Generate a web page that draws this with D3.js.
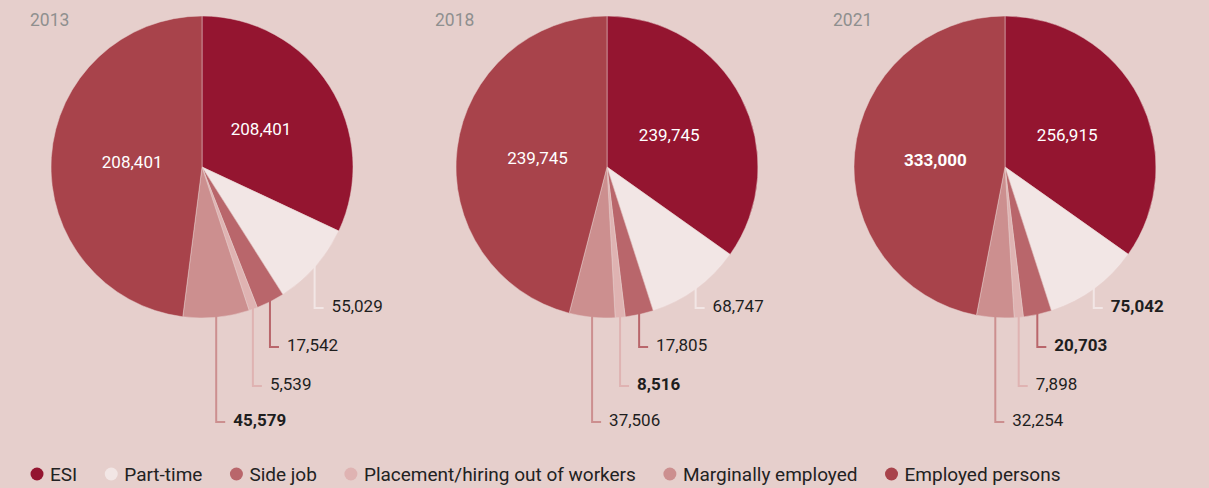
<!DOCTYPE html>
<html>
<head>
<meta charset="utf-8">
<script src="https://cdn.jsdelivr.net/npm/d3@7"></script>
<style>
  body { margin: 0; background: #e6cfcc; }
  svg { display: block; font-family: Roboto, "Open Sans", sans-serif; }
</style>
</head>
<body>
<div id="chart"></div>
<script>
// categories and colours (one per slice)
const categories = ["ESI", "Part-time", "Side job", "Placement/hiring out of workers", "Marginally employed", "Employed persons"];
const colours = ["#941530", "#f2e6e5", "#b9666b", "#dfb3b2", "#cc8f8f", "#a8434b"];

const years = ["2013", "2018", "2021"];

// numbers printed on / next to the slices
const labels2013 = [208401, 55029, 17542, 5539, 45579, 208401];
const labels2018 = [239745, 68747, 17805, 8516, 37506, 239745];
const labels2021 = [256915, 75042, 20703, 7898, 32254, 333000];

// slice sizes (percent of the circle)
const share2013 = [31.97, 9.03, 3.03, 0.92, 7.08, 47.97];
const share2018 = [34.83, 10.22, 3.03, 1.06, 4.89, 45.97];
const share2021 = [34.81, 10.22, 3.03, 0.97, 4.00, 46.97];

// labels printed in bold
const bold2013 = ["Marginally employed"];
const bold2018 = ["Placement/hiring out of workers"];
const bold2021 = ["Part-time", "Side job", "Employed persons"];

const width = 1209, height = 488;
const radius = 151, cy = 167;

const svg = d3.select("#chart")
  .append("svg")
  .attr("width", width)
  .attr("height", height);

svg.append("rect").attr("width", width).attr("height", height).attr("fill", "#e6cfcc");

const color = d3.scaleOrdinal().domain(categories).range(colours);
const cx = d3.scaleOrdinal().domain(years).range([202, 607, 1005]);

const pie = d3.pie().sort(null).value(d => d.share);
const arc = d3.arc().innerRadius(0).outerRadius(radius);
const inner = d3.arc().innerRadius(0).outerRadius(140);

const yearData = [
  { year: "2013", labels: labels2013, share: share2013, bold: bold2013 },
  { year: "2018", labels: labels2018, share: share2018, bold: bold2018 },
  { year: "2021", labels: labels2021, share: share2021, bold: bold2021 }
];

// vertical offsets of the outside label rows (below the pie centre)
const rowOffset = [141, 180, 219, 255];
const fmt = d3.format(",");

yearData.forEach(function (yd) {
  const rows = categories.map((c, i) => ({ key: c, share: yd.share[i], label: yd.labels[i], bold: yd.bold.includes(c) }));
  const arcs = pie(rows);

  const g = svg.append("g").attr("transform", `translate(${cx(yd.year)},${cy})`);

  g.append("text")
    .attr("x", -172)
    .attr("y", -141)
    .attr("fill", "#8f8f8f")
    .style("font-size", "17.5px")
    .text(yd.year);

  g.selectAll("path")
    .data(arcs)
    .join("path")
    .attr("d", arc)
    .attr("fill", d => color(d.data.key))
    .attr("stroke", "#e6cfcc")
    .attr("stroke-width", 0.5);

  // labels inside the two big slices
  g.selectAll("text.inside")
    .data([arcs[0], arcs[5]])
    .join("text")
    .attr("class", "inside")
    .attr("transform", d => `translate(${inner.centroid(d)})`)
    .attr("text-anchor", "middle")
    .attr("dy", "0.35em")
    .attr("fill", "#fff")
    .style("font-size", "17px")
    .style("font-weight", d => d.data.bold ? 700 : 400)
    .text(d => fmt(d.data.label));

  // outside labels with leader lines
  const outside = arcs.slice(1, 5);
  outside.forEach(function (d, i) {
    const mid = (d.startAngle + d.endAngle) / 2;
    const x0 = (radius - 1) * Math.sin(mid);
    const y0 = -(radius - 1) * Math.cos(mid);
    const y1 = rowOffset[i];
    g.append("path")
      .attr("d", `M${x0},${y0}V${y1}H${x0 + 9}`)
      .attr("fill", "none")
      .attr("stroke", color(d.data.key))
      .attr("stroke-width", 2);
    g.append("text")
      .attr("x", x0 + 17)
      .attr("y", y1 + 4)
      .attr("fill", "#1e1e1e")
      .style("font-size", "17px")
      .style("font-weight", d.data.bold ? 700 : 400)
      .text(fmt(d.data.label));
  });
});

// legend
const legend = svg.append("g").attr("transform", "translate(0,474)");
let lx = 37;
categories.forEach(function (c) {
  legend.append("circle").attr("cx", lx).attr("cy", 0).attr("r", 6.5).attr("fill", color(c));
  const t = legend.append("text")
    .attr("x", lx + 13)
    .attr("dy", "0.35em")
    .attr("fill", "#222")
    .style("font-size", "19px")
    .text(c);
  lx += 13 + t.node().getComputedTextLength() + 34;
});
</script>
</body>
</html>
